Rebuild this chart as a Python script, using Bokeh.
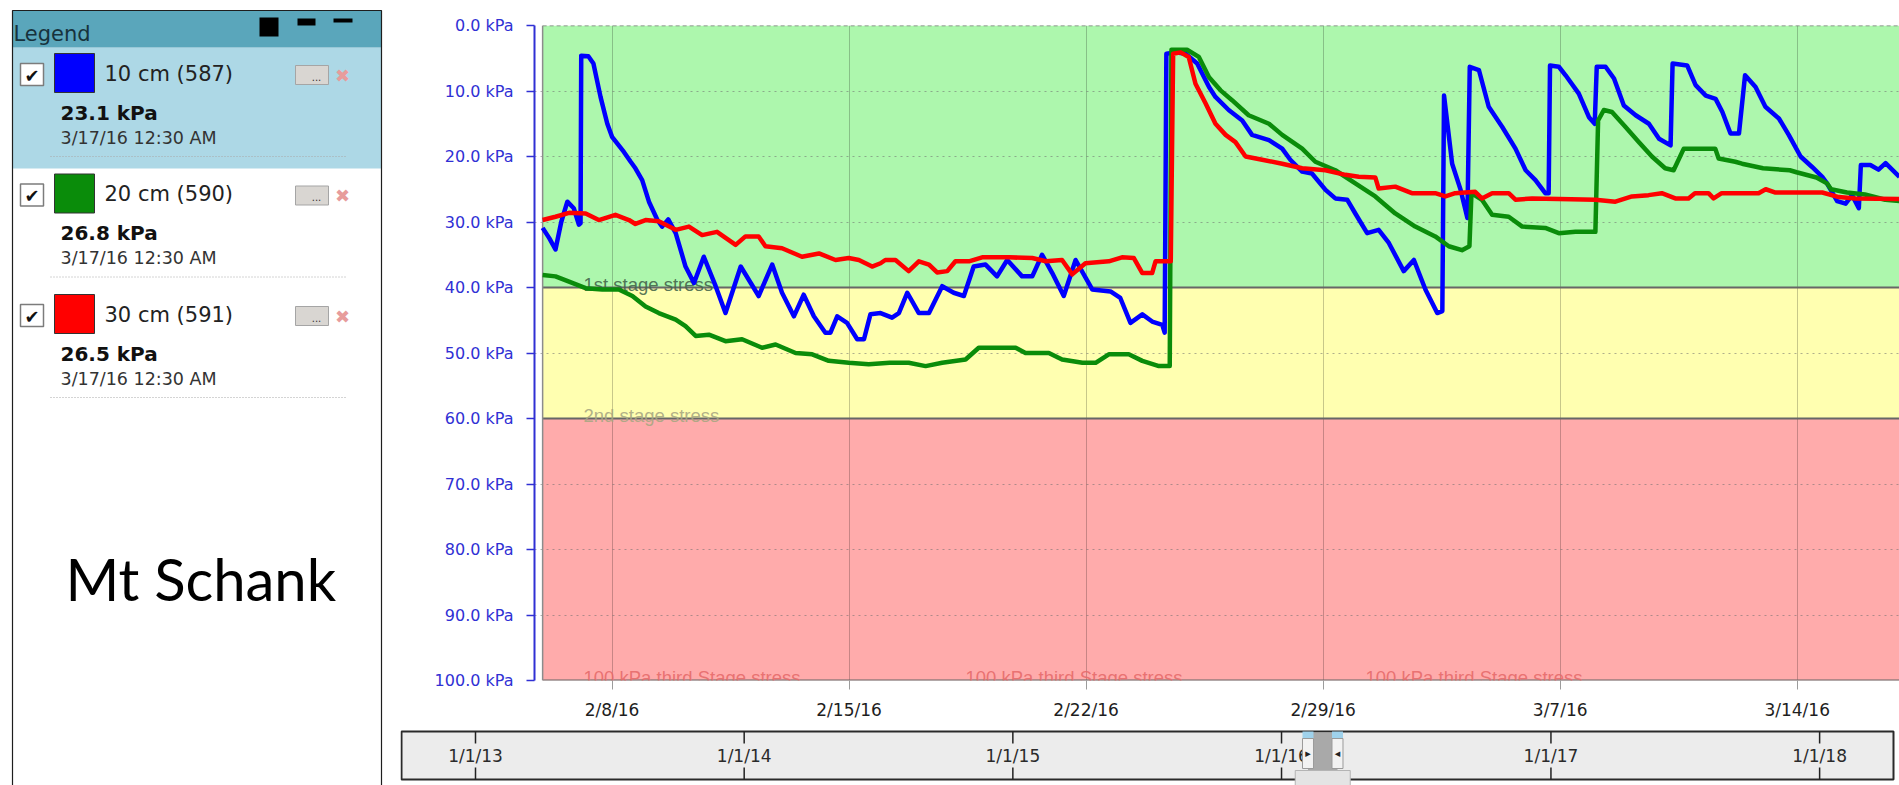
import numpy as np
import pandas as pd
from bokeh.core.properties import value
from bokeh.embed import file_html
from bokeh.layouts import column, row
from bokeh.models import CustomJSTickFormatter, FixedTicker, Range1d
from bokeh.plotting import figure
from bokeh.resources import INLINE

# ---------------------------------------------------------------------------
# Soil water tension readings, Mt Schank (days after 2016-02-08 00:00, kPa)
# ---------------------------------------------------------------------------
REF = "2016-02-08 00:00"
LATEST = "2016-03-17 00:30"

blue_day = [-2.05, -1.85, -1.67, -1.50, -1.32, -1.13, -0.98, -0.93, -0.91, -0.70, -0.55,
            -0.34, -0.14, 0.00, 0.35, 0.55, 0.69, 0.89, 1.09, 1.34, 1.48, 1.66, 1.88, 2.17,
            2.42, 2.71, 3.06, 3.35, 3.80, 4.33, 4.73, 5.02, 5.37, 5.66, 5.96, 6.30, 6.45,
            6.65, 6.94, 7.24, 7.44, 7.63, 7.93, 8.27, 8.47, 8.72, 9.06, 9.36, 9.75, 10.09,
            10.39, 10.68, 11.03, 11.37, 11.67, 12.11, 12.41, 12.70, 13.00, 13.34, 13.69,
            14.18, 14.72, 15.01, 15.31, 15.66, 15.95, 16.25, 16.32, 16.37, 16.64, 16.94,
            17.28, 17.63, 17.82, 18.21, 18.61, 18.90, 19.40, 19.79, 20.03, 20.38, 20.67,
            21.07, 21.36, 21.71, 21.95, 22.30, 22.64, 22.94, 23.38, 23.68, 24.02, 24.37,
            24.52, 24.57, 24.81, 25.06, 25.26, 25.33, 25.60, 25.89, 26.29, 26.68, 26.98,
            27.27, 27.56, 27.66, 27.70, 27.96, 28.16, 28.55, 28.85, 29.02, 29.08, 29.34,
            29.59, 29.88, 30.23, 30.62, 30.92, 31.26, 31.32, 31.75, 32.00, 32.30, 32.59,
            32.79, 33.03, 33.28, 33.46, 33.77, 34.06, 34.46, 34.75, 35.10, 35.44, 35.74,
            35.88, 36.18, 36.43, 36.62, 36.82, 36.88, 37.16, 37.40, 37.61]
blue_kpa = [30.9, 32.5, 34.2, 30.0, 26.9, 27.9, 30.4, 30.2, 4.6, 4.7, 5.8,
            10.9, 15.0, 17.0, 19.3, 20.8, 21.8, 23.6, 26.9, 29.7, 30.7, 29.6, 31.7, 36.8,
            39.3, 35.3, 39.8, 43.9, 36.8, 41.3, 36.5, 40.8, 44.4, 41.1, 44.4, 46.9, 46.9,
            44.4, 45.4, 47.9, 47.9, 44.1, 43.9, 44.6, 43.9, 40.8, 43.9, 43.9, 39.8, 40.8,
            41.3, 36.8, 36.5, 38.3, 35.8, 38.3, 38.3, 35.0, 37.8, 41.3, 35.8,
            40.3, 40.6, 41.6, 45.4, 44.1, 45.2, 45.7, 46.9, 4.3, 4.1, 4.3,
            5.8, 9.4, 10.9, 12.9, 14.5, 16.7, 17.5, 18.8, 20.5, 22.3, 22.6,
            25.1, 26.4, 26.6, 28.7, 31.7, 31.2, 33.2, 37.5, 35.8, 40.3, 43.9,
            43.6, 10.7, 21.1, 25.1, 29.4, 6.3, 6.8, 12.4, 15.5, 18.8, 22.1,
            23.6, 25.6, 25.6, 6.1, 6.3, 7.6, 10.4, 14.0, 15.0, 6.3, 6.3,
            8.1, 12.2, 13.7, 15.0, 17.3, 18.3, 5.8, 6.1, 9.1, 10.7, 11.2,
            13.2, 16.5, 16.5, 7.6, 9.4, 12.4, 14.2, 16.7, 20.0, 21.6, 23.1,
            24.1, 26.8, 27.2, 25.9, 27.9, 21.3, 21.3, 22.0, 21.0]

green_day = [-2.05, -1.67, -1.27, -0.78, -0.29, 0.20, 0.60, 0.99, 1.38, 1.88, 2.17, 2.47,
             2.86, 3.35, 3.84, 4.43, 4.83, 5.42, 5.91, 6.40, 6.99, 7.58, 8.20, 8.76, 9.26,
             9.75, 10.44, 10.83, 11.23, 11.92, 12.21, 12.90, 13.29, 13.89, 14.28, 14.67,
             15.26, 15.66, 16.15, 16.47, 16.52, 16.98, 17.33, 17.63, 17.97, 18.31, 18.80,
             19.40, 19.79, 20.38, 20.77, 21.36, 21.95, 22.54, 23.13, 23.72, 24.31, 24.71,
             25.10, 25.32, 25.38, 25.69, 25.99, 26.48, 26.88, 27.56, 27.96, 28.45, 29.04,
             29.12, 29.29, 29.53, 29.93, 30.32, 30.71, 31.10, 31.35, 31.65, 32.58, 32.68,
             33.17, 33.37, 33.99, 34.78, 34.98, 35.57, 35.88, 36.00, 36.47, 37.00, 37.60]
green_kpa = [38.1, 38.3, 39.1, 40.1, 40.3, 40.3, 41.3, 42.9, 43.9, 44.9, 45.9, 47.4,
             47.2, 48.2, 47.9, 49.2, 48.7, 50.0, 50.2, 51.2, 51.5, 51.7, 51.5, 51.5, 52.0,
             51.5, 51.0, 49.2, 49.2, 49.2, 50.0, 50.0, 51.0, 51.5, 51.5, 50.2,
             50.2, 51.2, 52.0, 52.0, 3.7, 3.7, 4.8, 7.9, 9.9, 11.4, 13.7,
             15.0, 16.7, 18.8, 20.8, 22.1, 24.1, 26.1, 28.7, 30.7, 32.2, 33.7,
             34.3, 33.7, 25.6, 26.6, 28.9, 29.2, 30.7, 30.9, 31.7, 31.5, 31.5,
             14.5, 12.9, 13.2, 15.5, 17.8, 20.0, 21.8, 22.1, 18.8, 18.8, 20.3,
             20.8, 21.1, 21.8, 22.1, 22.4, 23.2, 24.1, 25.0, 25.5, 25.8, 26.6]

red_day = [-2.05, -1.67, -1.27, -0.78, -0.39, 0.10, 0.50, 0.69, 0.99, 1.38, 1.88, 2.27,
           2.66, 3.10, 3.65, 3.94, 4.33, 4.53, 5.02, 5.61, 6.11, 6.60, 6.99, 7.29, 7.68,
           7.93, 8.07, 8.37, 8.76, 9.06, 9.36, 9.60, 9.90, 10.14, 10.54, 10.93, 11.72,
           12.41, 12.81, 13.29, 13.59, 13.98, 14.67, 15.06, 15.41, 15.66, 15.95, 16.05,
           16.50, 16.57, 16.79, 17.03, 17.23, 17.53, 17.82, 18.12, 18.41, 18.71, 19.20,
           19.79, 20.38, 21.07, 21.66, 22.05, 22.54, 22.64, 23.13, 23.62, 24.31, 24.61,
           24.90, 25.49, 25.69, 25.99, 26.48, 26.68, 27.17, 27.96, 29.04, 29.63, 30.12,
           30.61, 31.00, 31.40, 31.79, 31.98, 32.38, 32.53, 32.77, 33.86, 34.07, 34.36,
           35.74, 36.23, 36.72]
red_kpa = [29.7, 29.2, 28.6, 28.7, 29.7, 28.9, 29.7, 30.3, 29.7, 29.9, 31.2, 30.7,
           32.0, 31.5, 33.5, 32.2, 32.2, 33.7, 34.0, 35.3, 34.8, 35.8, 35.5, 35.8, 36.8,
           36.3, 35.8, 35.8, 37.5, 36.0, 36.5, 37.7, 37.5, 36.0, 36.0, 35.4, 35.4,
           35.5, 36.0, 35.8, 38.0, 36.3, 36.0, 35.4, 35.5, 37.8, 37.8, 36.0,
           36.0, 4.3, 4.1, 4.8, 8.9, 11.9, 15.0, 16.7, 17.8, 20.0, 20.5,
           21.1, 21.8, 22.1, 22.8, 23.1, 23.2, 24.9, 24.6, 25.6, 25.6, 26.1,
           25.6, 25.4, 26.4, 25.6, 25.6, 26.6, 26.4, 26.5, 26.6, 26.9, 26.1,
           25.9, 25.6, 26.4, 26.4, 25.6, 25.6, 26.4, 25.6, 25.6, 25.0, 25.5,
           25.5, 26.2, 26.4]

sensor_names = ["10 cm (587)", "20 cm (590)", "30 cm (591)"]
sensor_colors = ["#0000ff", "#0a8c0a", "#ff0000"]
latest_kpa = [23.1, 26.8, 26.5]
latest_stamp = "3/17/16 12:30 AM"

week_ticks = ["2016-02-08", "2016-02-15", "2016-02-22", "2016-02-29", "2016-03-07", "2016-03-14"]
kpa_ticks = [0, 10, 20, 30, 40, 50, 60, 70, 80, 90, 100]
kpa_grid = [10, 20, 30, 50, 70, 80, 90]
year_ticks = ["2013-01-01", "2014-01-01", "2015-01-01", "2016-01-01", "2017-01-01", "2018-01-01"]
year_labels = ["1/1/13", "1/1/14", "1/1/15", "1/1/16", "1/1/17", "1/1/18"]

zone_top = [0, 40, 60]
zone_bottom = [40, 60, 100]
zone_colors = ["#adf7ad", "#ffffb0", "#ffabab"]
zone_limits = [40, 60, 100]
zone_names = ["1st stage stress", "2nd stage stress", "100 kPa third Stage stress"]
zone_text_colors = ["#43644a", "#a8a782", "#e66a6a"]

# ---------------------------------------------------------------------------
ref_ms = pd.Timestamp(REF).value / 1e6
latest_day = (pd.Timestamp(LATEST) - pd.Timestamp(REF)) / pd.Timedelta(days=1)


def ms(days):
    return ref_ms + np.asarray(days, dtype=float) * 864e5


def date_ms(dates):
    return [pd.Timestamp(d).value / 1e6 for d in dates]


def free_frame(fig):
    # keep each canvas' own borders instead of lining frames up across the layout
    if "frame_align" in fig.properties():
        fig.frame_align = False
    return fig


series = [
    (blue_day + [latest_day], blue_kpa + [latest_kpa[0]]),
    (green_day + [latest_day], green_kpa + [latest_kpa[1]]),
    (red_day + [latest_day], red_kpa + [latest_kpa[2]]),
]
first_day = min(d[0][0] for d in series)

FONT = value("DejaVu Sans")
AXIS_BLUE = "#3030d4"

# ---------------------------------------------------------------------------
# thin header rule across the page
top = free_frame(figure(width=1899, height=8, x_range=Range1d(0, 1899), y_range=Range1d(8, 0),
                        toolbar_location=None, output_backend="svg", min_border=0,
                        x_axis_location=None, y_axis_location=None, outline_line_color=None))
top.grid.visible = False
top.segment(x0=[0], y0=[5], x1=[1899], y1=[5], line_color="#4393ac", line_width=2)

# ---------------------------------------------------------------------------
# legend panel
side = free_frame(figure(width=400, height=777, x_range=Range1d(0, 400), y_range=Range1d(785, 8),
                         toolbar_location=None, output_backend="svg", min_border=0,
                         x_axis_location=None, y_axis_location=None, outline_line_color=None))
side.grid.visible = False

side.quad(left=[12], right=[381], top=[47], bottom=[168], fill_color="#add8e6", line_color=None)
side.quad(left=[12], right=[381], top=[10], bottom=[47], fill_color="#5aa6bb", line_color=None)
side.quad(left=[12], right=[381], top=[10], bottom=[790], fill_color=None,
          line_color="#1e1e1e", line_width=1.2)
side.text(x=[13], y=[33.5], text=["Legend"], text_font=FONT, text_font_size="21px",
          text_color="#17323c", text_baseline="alphabetic")
side.quad(left=[259], right=[278], top=[17], bottom=[36], fill_color="black", line_color=None)
side.quad(left=[297], right=[315], top=[18], bottom=[25], fill_color="black", line_color=None)
side.quad(left=[333], right=[352], top=[18], bottom=[22], fill_color="black", line_color=None)

for i, (name, col, kpa) in enumerate(zip(sensor_names, sensor_colors, latest_kpa)):
    oy = 120.5 * i
    side.quad(left=[20], right=[43], top=[63 + oy], bottom=[85 + oy], fill_color="white",
              line_color="#7c7c7c", line_width=1.5)
    side.text(x=[31.5], y=[74.5 + oy], text=["\u2714"], text_font=FONT, text_font_size="18px",
              text_color="#111111", text_align="center", text_baseline="middle")
    side.quad(left=[54], right=[94], top=[53 + oy], bottom=[92 + oy], fill_color=col,
              line_color="#333333", line_width=1)
    side.text(x=[104], y=[73 + oy], text=[name], text_font=FONT, text_font_size="21px",
              text_color="#222222", text_baseline="middle")
    side.quad(left=[295], right=[328], top=[65 + oy], bottom=[84 + oy], fill_color="#d9d6d2",
              line_color="#a5a5a5", line_width=1)
    side.text(x=[316], y=[76 + oy], text=["..."], text_font=FONT, text_font_size="10px",
              text_color="#333333", text_align="center", text_baseline="middle")
    side.text(x=[342], y=[74.5 + oy], text=["\u2716"], text_font=FONT, text_font_size="18px",
              text_color="#e79c9c", text_align="center", text_baseline="middle")
    side.text(x=[60], y=[112 + oy], text=[f"{kpa:.1f} kPa"], text_font=FONT,
              text_font_size="20px", text_font_style="bold", text_color="#111111",
              text_baseline="middle")
    side.text(x=[60], y=[137 + oy], text=[latest_stamp], text_font=FONT,
              text_font_size="17.5px", text_color="#333333", text_baseline="middle")
    side.segment(x0=[50], y0=[156 + oy], x1=[347], y1=[156 + oy], line_color="#a8a8a8",
                 line_width=1, line_dash="1 2")

side.text(x=[65], y=[578], text=["Mt Schank"], text_font=value("Lato"), text_font_size="58px",
          text_color="#000000", text_baseline="alphabetic")

# ---------------------------------------------------------------------------
# main chart
view_lo, view_hi = -2.29, latest_day
FRAME_LEFT, FRAME_W = 534, 1365


def day_at(px):
    return view_lo + (px - FRAME_LEFT) * (view_hi - view_lo) / FRAME_W


p = free_frame(figure(width=1499, height=714, x_axis_type="datetime",
                      x_range=Range1d(ms(view_lo), ms(view_hi)), y_range=Range1d(100, 0),
                      min_border_left=134, min_border_right=0, min_border_top=17,
                      min_border_bottom=41, toolbar_location=None, output_backend="svg",
                      outline_line_color=None, background_fill_color="white",
                      border_fill_color="white"))

win_lo, win_hi = ms(first_day), ms(latest_day)
p.quad(left=[win_lo] * 3, right=[win_hi] * 3, top=zone_top, bottom=zone_bottom,
       fill_color=zone_colors, line_color=None, level="image")

p.xgrid.ticker = FixedTicker(ticks=date_ms(week_ticks))
p.xgrid.grid_line_color = "#000000"
p.xgrid.grid_line_alpha = 0.22
p.ygrid.ticker = FixedTicker(ticks=kpa_grid)
p.ygrid.grid_line_color = "#6e6e6e"
p.ygrid.grid_line_alpha = 0.55
p.ygrid.grid_line_dash = "2 4"

# zone limits and plot border
p.segment(x0=[win_lo] * 3, x1=[win_hi] * 3, y0=zone_limits, y1=zone_limits,
          line_color="#676767", line_width=2)
p.segment(x0=[win_lo], x1=[win_hi], y0=[0], y1=[0], line_color="#7a7a7a", line_width=1.5,
          line_dash="4 3")
p.segment(x0=[win_lo], x1=[win_lo], y0=[0], y1=[100], line_color="#8c8c8c", line_width=1.5)

label_days = [[day_at(583)], [day_at(583)], [day_at(583), day_at(965), day_at(1365)]]
for name, lim, col, days in zip(zone_names, zone_limits, zone_text_colors, label_days):
    p.text(x=list(ms(days)), y=[lim] * len(days), text=[name] * len(days),
           text_font=value("Liberation Sans"), text_font_size="18.5px", text_color=col,
           text_alpha=0.9, text_baseline="alphabetic", y_offset=-3)

for (days, kpa), col in zip(series, sensor_colors):
    p.line(ms(days), kpa, line_color=col, line_width=4.5, line_join="round")

xa = p.xaxis[0]
xa.ticker = FixedTicker(ticks=date_ms(week_ticks))
xa.formatter = CustomJSTickFormatter(code="""
const d = new Date(tick);
return (d.getUTCMonth() + 1) + '/' + d.getUTCDate() + '/' + String(d.getUTCFullYear()).slice(2);
""")
xa.axis_line_color = None
xa.major_tick_out = 9
xa.major_tick_in = 0
xa.major_tick_line_color = "#9c9c9c"
xa.minor_tick_line_color = None
xa.major_label_text_font = "DejaVu Sans"
xa.major_label_text_font_size = "17px"
xa.major_label_text_color = "#1e1e1e"
xa.major_label_standoff = 10

ya = p.yaxis[0]
ya.ticker = FixedTicker(ticks=kpa_ticks)
ya.formatter = CustomJSTickFormatter(code="return tick.toFixed(1) + ' kPa';")
ya.axis_line_color = AXIS_BLUE
ya.axis_line_width = 2
ya.major_tick_out = 8
ya.major_tick_in = 0
ya.major_tick_line_color = AXIS_BLUE
ya.major_tick_line_width = 1.5
ya.minor_tick_line_color = None
ya.major_label_text_font = "DejaVu Sans"
ya.major_label_text_font_size = "16px"
ya.major_label_text_color = AXIS_BLUE
ya.major_label_standoff = 13

# ---------------------------------------------------------------------------
# overview navigator
nav_ref = pd.Timestamp(year_ticks[0]).value / 1e6
nav_px_per_day = 0.7361
NAV_X0 = 475 - 400


def nav_ms(px):
    return nav_ref + (px - NAV_X0) / nav_px_per_day * 864e5


nav = free_frame(figure(width=1499, height=63, x_axis_type="datetime",
                        x_range=Range1d(nav_ms(0), nav_ms(1499)), y_range=Range1d(785, 722),
                        toolbar_location=None, output_backend="svg", min_border=0,
                        x_axis_location=None, y_axis_location=None, outline_line_color=None))
nav.grid.visible = False
nav.quad(left=[nav_ms(1)], right=[nav_ms(1493)], top=[731], bottom=[779],
         fill_color="#ececec", line_color="#2a2a2a", line_width=2)
yms = date_ms(year_ticks)
nav.segment(x0=yms, x1=yms, y0=[731] * 6, y1=[743] * 6, line_color="#222222", line_width=1.5)
nav.segment(x0=yms, x1=yms, y0=[767] * 6, y1=[779] * 6, line_color="#222222", line_width=1.5)
nav.text(x=yms, y=[755] * 6, text=year_labels, text_font=FONT, text_font_size="17px",
         text_color="#2a2a2a", text_align="center", text_baseline="middle")

nav.quad(left=[win_lo], right=[win_hi], top=[732], bottom=[770], fill_color="#a9a9a9",
         line_color=None)
nav.rect(x=[(win_lo + win_hi) / 2], y=[778], width=55, height=16, width_units="screen",
         fill_color="#e4e4e4", line_color="#b4b4b4")
nav.rect(x=[win_lo, win_hi], y=[734.5, 734.5], width=11, height=7, width_units="screen",
         fill_color="#9fd2ec", line_color=None)
nav.rect(x=[win_lo, win_hi], y=[753, 753], width=11, height=30, width_units="screen",
         fill_color="#f2f2f2", line_color="#9a9a9a")
nav.text(x=[win_lo, win_hi], y=[753, 753], text=["\u25b8", "\u25c2"], text_font=FONT,
         text_font_size="11px", text_color="#222222", text_align="center",
         text_baseline="middle")

layout = column(top, row(side, column(p, nav)))
open("out.html", "w").write(file_html(layout, INLINE))
